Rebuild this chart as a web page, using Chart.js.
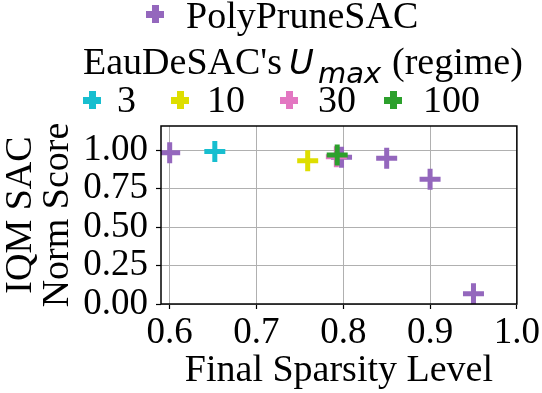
<!DOCTYPE html>
<html>
<head>
<meta charset="utf-8">
<script src="https://cdn.jsdelivr.net/npm/chart.js@4"></script>
<style>
  body { margin: 0; background: #fff; }
  #wrap { position: relative; width: 542px; height: 393px; }
  #wrap canvas { position: absolute; left: 0; top: 0; }
  .lg { position: absolute; font-family: "Liberation Serif", serif; font-size: 38px; line-height: 38px; color: #000; white-space: nowrap; }
  .mk { position: absolute; width: 18px; height: 18px; }
  .math { position: absolute; font-family: "DejaVu Sans", sans-serif; font-style: italic; color: #000; white-space: nowrap; }
</style>
</head>
<body>
<div id="wrap">
  <canvas id="chart" width="542" height="393"></canvas>
  <div id="legend"></div>
</div>
<script>
// data
const polyLabel = "PolyPruneSAC";
const polyX = [0.6, 0.798, 0.85, 0.9, 0.95];
const polyY = [0.982, 0.953, 0.946, 0.81, 0.067];
const polyColor = "#9467bd";

const regimeLabels = ["3", "10", "30", "100"];
const regimeX = [0.652, 0.759, 0.792, 0.793];
const regimeY = [0.99, 0.93, 0.956, 0.967];
const regimeColors = ["#17becf", "#dede00", "#e377c2", "#2ca02c"];

const xTicks = [0.6, 0.7, 0.8, 0.9, 1.0];
const yTicks = [0, 0.25, 0.5, 0.75, 1.0];

// legend (html overlay)
const legend = document.getElementById("legend");
function plusMarker(color, left, top) {
    const m = document.createElement("span");
    m.className = "mk";
    m.style.left = left + "px";
    m.style.top = top + "px";
    m.style.background =
        "linear-gradient(" + color + "," + color + ") center/18px 7px no-repeat," +
        "linear-gradient(" + color + "," + color + ") center/7px 18px no-repeat";
    legend.appendChild(m);
}
function text(str, cls, left, top, size) {
    const t = document.createElement("span");
    t.className = cls;
    t.textContent = str;
    t.style.left = left + "px";
    t.style.top = top + "px";
    if (size) {
        t.style.fontSize = size + "px";
        t.style.lineHeight = size + "px";
    }
    legend.appendChild(t);
}

plusMarker(polyColor, 146, 5);
text(polyLabel, "lg", 186, -4);

text("EauDeSAC's", "lg", 83, 42);
text("U", "math", 289, 45, 34);
text("max", "math", 318, 59, 29);
text("(regime)", "lg", 392, 42);

const markerLeft = [83, 171, 280, 384];
const textLeft = [117, 207, 318, 423];
for (let i = 0; i < regimeLabels.length; i++) {
    plusMarker(regimeColors[i], markerLeft[i], 91);
    text(regimeLabels[i], "lg", textLeft[i], 80);
}

// chart
const datasets = [
    {
        label: polyLabel,
        data: polyX.map((x, i) => ({ x: x, y: polyY[i] })),
        borderColor: polyColor,
        backgroundColor: polyColor,
        order: 10,
    },
];
for (let i = 0; i < regimeLabels.length; i++) {
    datasets.push({
        label: regimeLabels[i],
        data: [{ x: regimeX[i], y: regimeY[i] }],
        borderColor: regimeColors[i],
        backgroundColor: regimeColors[i],
        order: 5 - i,
    });
}
datasets.forEach((d) => {
    d.pointStyle = "cross";
    d.pointRadius = 10.5;
    d.pointBorderWidth = 5;
    d.clip = 0;
});

const frame = {
    id: "frame",
    afterDatasetsDraw(chart) {
        const { ctx, chartArea: a } = chart;
        ctx.save();
        ctx.strokeStyle = "#000";
        ctx.lineWidth = 1.5;
        ctx.strokeRect(a.left, a.top, a.right - a.left, a.bottom - a.top);
        ctx.restore();
    },
};

const tickFont = { family: "Liberation Serif", size: 37 };
const titleFont = { family: "Liberation Serif", size: 38, lineHeight: 1 };

new Chart(document.getElementById("chart"), {
    type: "scatter",
    data: { datasets: datasets },
    plugins: [frame],
    options: {
        responsive: false,
        animation: false,
        layout: { padding: { left: 0, top: 126, right: 24, bottom: 0 } },
        plugins: {
            legend: { display: false },
            tooltip: { enabled: false },
        },
        scales: {
            x: {
                type: "linear",
                min: 0.59,
                max: 1.0,
                afterFit: (s) => { s.height = 89; },
                afterBuildTicks: (s) => { s.ticks = xTicks.map((v) => ({ value: v })); },
                grid: {
                    color: "#b0b0b0",
                    lineWidth: 1,
                    tickColor: "#000",
                    tickLength: 5,
                    tickWidth: 1.2,
                },
                border: { display: false },
                ticks: {
                    color: "#000",
                    font: tickFont,
                    padding: 2,
                    maxRotation: 0,
                    autoSkip: false,
                    callback: (v) => Number(v).toFixed(1),
                },
                title: {
                    display: true,
                    text: "Final Sparsity Level",
                    color: "#000",
                    font: titleFont,
                    padding: { top: 0, bottom: 3 },
                },
            },
            y: {
                type: "linear",
                min: 0,
                max: 1.156,
                afterFit: (s) => { s.width = 161; },
                afterBuildTicks: (s) => { s.ticks = yTicks.map((v) => ({ value: v })); },
                grid: {
                    color: "#b0b0b0",
                    lineWidth: 1,
                    tickColor: "#000",
                    tickLength: 5,
                    tickWidth: 1.2,
                },
                border: { display: false },
                ticks: {
                    color: "#000",
                    font: tickFont,
                    padding: 8,
                    autoSkip: false,
                    callback: (v) => Number(v).toFixed(2),
                },
                title: {
                    display: true,
                    text: ["IQM SAC", "Norm Score"],
                    color: "#000",
                    font: { family: "Liberation Serif", size: 38, lineHeight: 0.97 },
                    padding: { top: 3, bottom: 0 },
                },
            },
        },
    },
});
</script>
</body>
</html>
